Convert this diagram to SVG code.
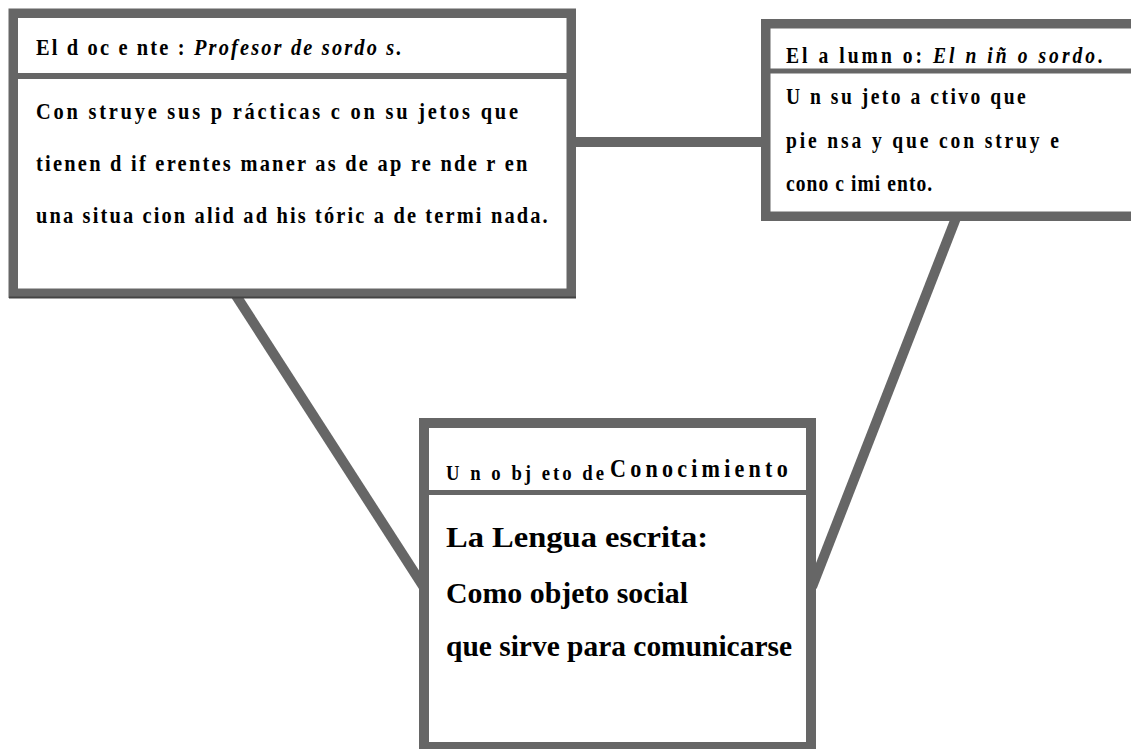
<svg xmlns="http://www.w3.org/2000/svg" width="1131" height="749" viewBox="0 0 1131 749">
  <style>
    .box { fill: #ffffff; stroke: #666666; }
    .div { stroke: #666666; }
    .conn { stroke: #666666; stroke-width: 10; fill: none; }
    text { font-family: "Liberation Serif", "Times New Roman", serif; font-weight: bold; fill: #000000; }
    .it { font-style: italic; }
  </style>
  <rect width="1131" height="749" fill="#ffffff"/>
  <g id="connectors">
    <line class="conn" x1="570" y1="142" x2="768" y2="142"/>
    <line class="conn" x1="235" y1="294" x2="425" y2="589"/>
    <line class="conn" x1="956" y1="218" x2="812" y2="587"/>
  </g>
  <g id="docente">
    <rect class="box" x="13.25" y="13.25" width="558" height="280" stroke-width="9.5"/>
    <line x1="9" y1="297.5" x2="576" y2="297.5" stroke="#444444" stroke-width="2"/>
    <line class="div" x1="18" y1="76" x2="567" y2="76" stroke-width="6"/>
    <g transform="translate(36 0) scale(0.85 1)" font-size="24">
      <text x="0" y="55" textLength="430" lengthAdjust="spacing">El  d oc e nte : <tspan class="it">Profesor de  sordo s.</tspan></text>
      <text x="0" y="119" textLength="567" lengthAdjust="spacing">Con struye  sus  p rácticas c on  su jetos que</text>
      <text x="0" y="171" textLength="578" lengthAdjust="spacing">tienen  d if erentes maner as de ap re nde r en</text>
      <text x="0" y="223" textLength="602" lengthAdjust="spacing">una   situa cion alid ad his tóric a de termi nada.</text>
    </g>
  </g>
  <g id="alumno">
    <rect class="box" x="765.75" y="23.75" width="400" height="192.5" stroke-width="9.5"/>
    <line class="div" x1="770" y1="71" x2="1131" y2="71" stroke-width="5"/>
    <g transform="translate(786 0) scale(0.85 1)" font-size="23">
      <text x="0" y="63" textLength="373" lengthAdjust="spacing">El a lumn o: <tspan class="it">El  n iñ o  sordo.</tspan></text>
      <text x="0" y="104" textLength="282" lengthAdjust="spacing">U n su jeto  a ctivo que</text>
      <text x="0" y="148" textLength="321" lengthAdjust="spacing">pie nsa  y que con  struy e</text>
      <text x="0" y="191" textLength="172" lengthAdjust="spacing">cono c imi ento.</text>
    </g>
  </g>
  <g id="conocimiento">
    <rect class="box" x="424" y="423" width="387" height="324" stroke-width="10"/>
    <line class="div" x1="429" y1="492.5" x2="806" y2="492.5" stroke-width="5"/>
    <g transform="translate(446 0) scale(0.85 1)">
      <text x="0" y="480" font-size="22" textLength="186" lengthAdjust="spacing">U n o bj eto  de</text>
      <text x="193" y="477" font-size="26" textLength="209" lengthAdjust="spacing">Conocimiento</text>
    </g>
    <text x="446" y="547" font-size="29" textLength="262" lengthAdjust="spacingAndGlyphs">La  Lengua  escrita:</text>
    <text x="446" y="603" font-size="29" textLength="242" lengthAdjust="spacingAndGlyphs">Como objeto social</text>
    <text x="446" y="656" font-size="29" textLength="346" lengthAdjust="spacingAndGlyphs">que sirve para comunicarse</text>
  </g>
</svg>
